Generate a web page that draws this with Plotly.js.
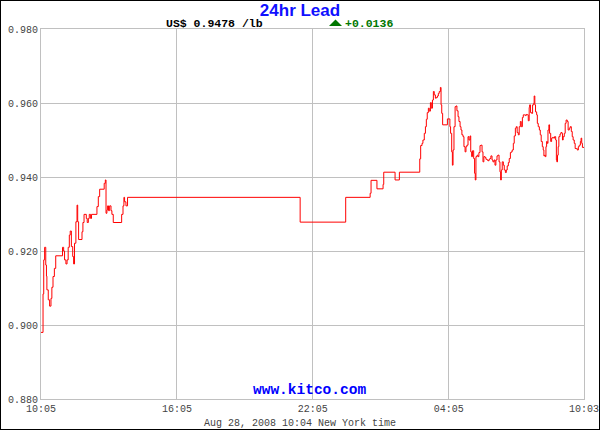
<!DOCTYPE html>
<html>
<head>
<meta charset="utf-8">
<script src="https://cdn.plot.ly/plotly-3.0.1.min.js"></script>
<style>
  html, body { margin: 0; padding: 0; background: #fff; }
  #chart { width: 598px; height: 428px; border: 1px solid #000; }
</style>
</head>
<body>
<div id="chart"></div>
<script>
// hours since 10:05 and lead price (US$/lb)
const hours = [
  0, 0.09, 0.12, 0.16, 0.21, 0.24, 0.26, 0.32, 0.38, 0.44, 0.48, 0.53, 0.59, 0.65, 0.95,
  1.00, 1.04, 1.10, 1.15, 1.20, 1.25, 1.29, 1.34, 1.40, 1.44, 1.48, 1.54, 1.59, 1.62, 1.66,
  1.81, 1.85, 1.90, 2.00, 2.04, 2.09, 2.13, 2.19, 2.23, 2.47, 2.53, 2.59, 2.79, 2.84, 2.87,
  2.91, 2.94, 2.98, 3.03, 3.09, 3.13, 3.19, 3.56, 3.62, 3.66, 3.69, 3.75, 3.82,
  11.44, 13.45, 14.53, 14.57, 14.83, 15.10, 15.13, 15.63, 15.82,
  16.72, 16.76, 16.82, 16.86, 16.92, 16.97, 17.01, 17.05, 17.10, 17.14, 17.19, 17.23, 17.28,
  17.32, 17.36, 17.41, 17.45, 17.50, 17.54, 17.58, 17.63, 17.66, 17.69, 17.73, 17.94, 18.05,
  18.08, 18.13, 18.16, 18.19, 18.23, 18.28, 18.32, 18.36, 18.41, 18.45, 18.50, 18.54, 18.58,
  18.63, 18.67, 18.72, 18.76, 18.80, 18.85, 18.89,
  18.94, 18.97, 19.01, 19.05, 19.10, 19.14, 19.17, 19.20, 19.25, 19.29, 19.33, 19.38, 19.42,
  19.47, 19.51, 19.55, 19.60, 19.64, 19.69, 19.73, 19.78, 19.82, 19.86, 19.91, 19.95, 20.00,
  20.04, 20.08, 20.13, 20.17, 20.22, 20.26, 20.29, 20.32, 20.36, 20.41, 20.45, 20.50, 20.54,
  20.58, 20.63, 20.67, 20.72, 20.76, 20.80, 20.85, 20.89, 20.94, 20.98, 21.02, 21.07, 21.11,
  21.16, 21.20, 21.25, 21.29, 21.33, 21.38, 21.42, 21.47, 21.51, 21.55,
  21.57, 21.61, 21.66, 21.70, 21.75, 21.77, 21.80, 21.83, 21.88, 21.91, 21.95, 22.00, 22.04,
  22.08, 22.13, 22.17, 22.20, 22.23, 22.26, 22.29, 22.32, 22.35, 22.38, 22.42, 22.45, 22.50,
  22.54, 22.58, 22.63, 22.67, 22.72, 22.75, 22.77, 22.80, 22.83, 22.86, 22.91, 22.95, 23.00,
  23.02, 23.05, 23.10, 23.14, 23.18, 23.23, 23.27, 23.32, 23.36, 23.41, 23.45, 23.49, 23.54,
  23.58, 23.63, 23.67, 23.72, 23.76, 23.81, 23.84, 23.87, 23.90, 23.97
];
const price = [
  0.8980, 0.9084, 0.9176, 0.9210, 0.9162, 0.9132, 0.9095, 0.9068, 0.9051, 0.9072, 0.9102, 0.9131, 0.9153, 0.9187, 0.9210,
  0.9200, 0.9176, 0.9165, 0.9176, 0.9210, 0.9243, 0.9254, 0.9212, 0.9185, 0.9165, 0.9221, 0.9279, 0.9324, 0.9279, 0.9231,
  0.9252, 0.9277, 0.9299, 0.9288, 0.9277, 0.9288, 0.9299, 0.9288, 0.9299, 0.9320, 0.9347, 0.9367, 0.9383, 0.9392, 0.9302,
  0.9311, 0.9322, 0.9309, 0.9322, 0.9309, 0.9299, 0.9277, 0.9299, 0.9322, 0.9345, 0.9333, 0.9322, 0.9345,
  0.9278, 0.9345, 0.9356, 0.9391, 0.9368, 0.9380, 0.9413, 0.9392, 0.9413,
  0.9449, 0.9485, 0.9491, 0.9500, 0.9518, 0.9536, 0.9556, 0.9574, 0.9586, 0.9578, 0.9601, 0.9586, 0.9608,
  0.9631, 0.9622, 0.9613, 0.9615, 0.9619, 0.9626, 0.9631, 0.9642, 0.9595, 0.9572, 0.9541, 0.9557, 0.9536,
  0.9518, 0.9468, 0.9432, 0.9473, 0.9536, 0.9590, 0.9592, 0.9579, 0.9563, 0.9550, 0.9536, 0.9527, 0.9514,
  0.9509, 0.9482, 0.9468, 0.9482, 0.9486, 0.9509, 0.9500,
  0.9511, 0.9468, 0.9455, 0.9471, 0.9450, 0.9410, 0.9392, 0.9455, 0.9459, 0.9455, 0.9466, 0.9485, 0.9486,
  0.9468, 0.9441, 0.9455, 0.9453, 0.9448, 0.9446, 0.9444, 0.9448, 0.9450, 0.9457, 0.9446, 0.9441, 0.9446,
  0.9432, 0.9446, 0.9457, 0.9459, 0.9441, 0.9414, 0.9392, 0.9419, 0.9441, 0.9432, 0.9419, 0.9412, 0.9419,
  0.9430, 0.9439, 0.9450, 0.9466, 0.9468, 0.9473, 0.9491, 0.9511, 0.9532, 0.9536, 0.9520, 0.9514, 0.9536,
  0.9550, 0.9536, 0.9561, 0.9568, 0.9568, 0.9566, 0.9569, 0.9568, 0.9552, 0.9588,
  0.9595, 0.9574, 0.9572, 0.9595, 0.9599, 0.9619, 0.9595, 0.9576, 0.9568, 0.9545, 0.9536, 0.9527, 0.9514,
  0.9496, 0.9482, 0.9473, 0.9457, 0.9459, 0.9455, 0.9482, 0.9496, 0.9491, 0.9527, 0.9541, 0.9518, 0.9496,
  0.9505, 0.9507, 0.9505, 0.9509, 0.9500, 0.9446, 0.9441, 0.9459, 0.9482, 0.9509, 0.9516, 0.9520, 0.9518,
  0.9500, 0.9509, 0.9518, 0.9545, 0.9554, 0.9550, 0.9527, 0.9532, 0.9536, 0.9523, 0.9509, 0.9500, 0.9491,
  0.9477, 0.9477, 0.9473, 0.9482, 0.9486, 0.9496, 0.9505, 0.9491, 0.9480, 0.9480
];

const xTickVals = [0, 6, 12, 18, 23.97];
const xTickText = ['10:05', '16:05', '22:05', '04:05', '10:03'];

const mono = 'Liberation Mono, DejaVu Sans Mono, monospace';

const trace = {
  x: hours,
  y: price,
  type: 'scatter',
  mode: 'lines',
  line: { color: '#ff0000', width: 1, shape: 'hv' },
  hoverinfo: 'skip'
};

const layout = {
  width: 598,
  height: 428,
  margin: { l: 40, r: 15, t: 28, b: 30 },
  paper_bgcolor: '#ffffff',
  plot_bgcolor: '#ffffff',
  showlegend: false,
  font: { family: mono, size: 10, color: '#444' },
  title: {
    text: '<b>24hr Lead</b>',
    font: { family: 'Liberation Sans, Arial, sans-serif', size: 17, color: '#1010ff' },
    x: 0.5, xref: 'container', xanchor: 'center',
    y: 0.979, yref: 'container', yanchor: 'middle'
  },
  xaxis: {
    range: [0, 23.97],
    tickmode: 'array',
    tickvals: xTickVals,
    ticktext: xTickText,
    ticklabeloverflow: 'allow',
    showgrid: true,
    gridcolor: '#c0c0c0',
    gridwidth: 1,
    showline: true,
    linecolor: '#c0c0c0',
    mirror: true,
    zeroline: false,
    ticks: '',
    fixedrange: true
  },
  yaxis: {
    range: [0.88, 0.98],
    dtick: 0.02,
    tick0: 0.88,
    tickformat: '.3f',
    ticklabeloverflow: 'allow',
    showgrid: true,
    gridcolor: '#c0c0c0',
    gridwidth: 1,
    showline: true,
    linecolor: '#c0c0c0',
    mirror: true,
    zeroline: false,
    ticks: '',
    fixedrange: true
  },
  shapes: [
    {
      // green up-arrow next to the change value
      type: 'path',
      xref: 'paper', yref: 'paper',
      xsizemode: 'pixel', ysizemode: 'pixel',
      xanchor: 0.5424, yanchor: 1.016,
      path: 'M -6.5 -3 L 6.5 -3 L 0 3.5 Z',
      fillcolor: '#007700',
      line: { width: 0 }
    }
  ],
  annotations: [
    {
      text: '<b>US$ 0.9478 /lb</b>',
      xref: 'paper', yref: 'paper', x: 0.319, y: 1.016,
      xanchor: 'center', yanchor: 'middle', showarrow: false,
      font: { family: mono, size: 11.5, color: '#000' }
    },
    {
      text: '<b>+0.0136</b>',
      xref: 'paper', yref: 'paper', x: 0.557, y: 1.016,
      xanchor: 'left', yanchor: 'middle', showarrow: false,
      font: { family: mono, size: 11.5, color: '#007700' }
    },
    {
      text: '<b>www.kitco.com</b>',
      xref: 'paper', yref: 'paper', x: 0.4936, y: 0.024,
      xanchor: 'center', yanchor: 'middle', showarrow: false,
      font: { family: mono, size: 14.5, color: '#0000ff' }
    },
    {
      text: 'Aug 28, 2008 10:04 New York time',
      xref: 'paper', yref: 'paper', x: 0.477, y: -0.065,
      xanchor: 'center', yanchor: 'middle', showarrow: false,
      font: { family: mono, size: 10, color: '#444' }
    }
  ]
};

Plotly.newPlot('chart', [trace], layout, { staticPlot: true, displayModeBar: false });
</script>
</body>
</html>
